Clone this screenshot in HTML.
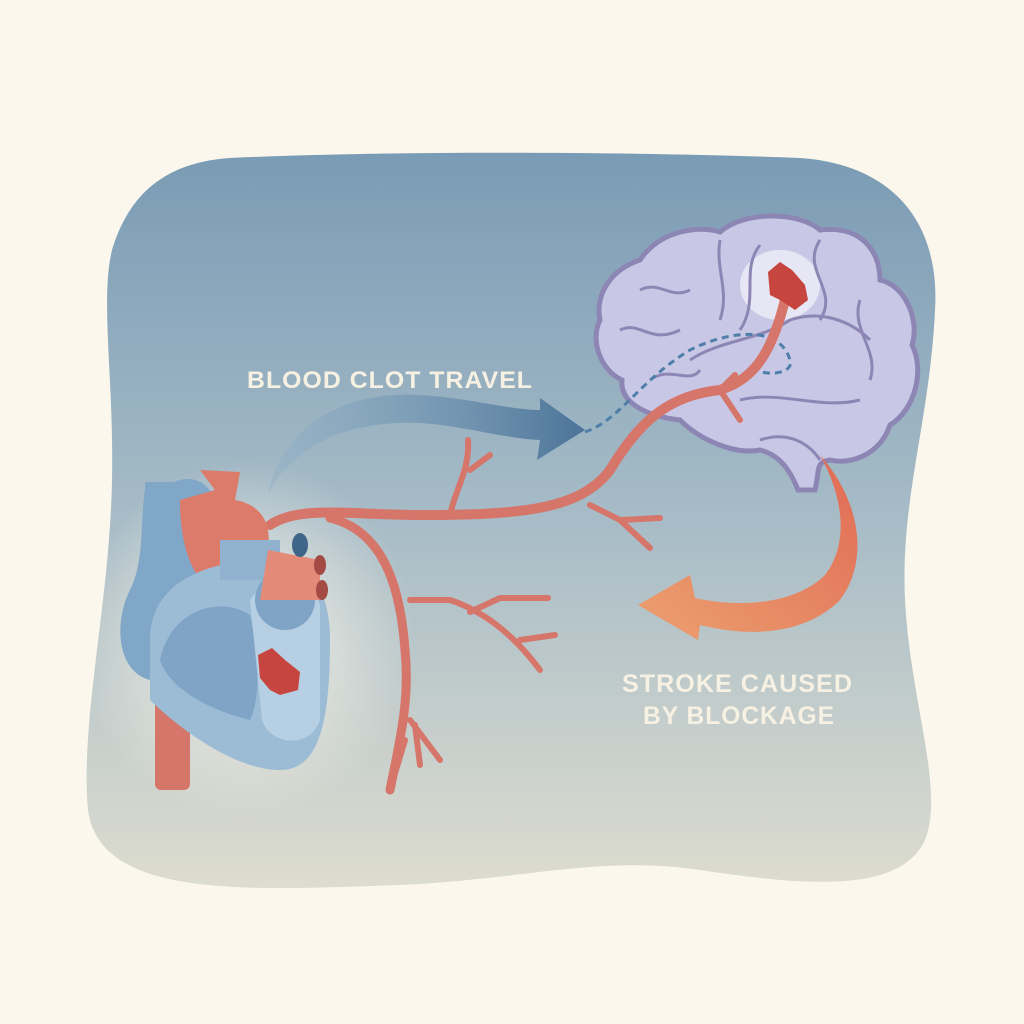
<!DOCTYPE html>
<html><head><style>
html,body{margin:0;padding:0;background:#fbf7ec;}
svg{display:block}
text{font-family:"Liberation Sans",sans-serif;font-weight:bold;fill:#f6f1e2}
</style></head><body>
<svg width="1024" height="1024" viewBox="0 0 1024 1024" xmlns="http://www.w3.org/2000/svg">
<defs>
<linearGradient id="bg" x1="0" y1="0" x2="0" y2="1">
<stop offset="0" stop-color="#7a9bb5"/><stop offset="0.5" stop-color="#a7bcc7"/><stop offset="1" stop-color="#dddccf"/>
</linearGradient>
<radialGradient id="glow" cx="0.5" cy="0.5" r="0.5">
<stop offset="0" stop-color="#fbf7ec" stop-opacity="0.9"/><stop offset="1" stop-color="#fbf7ec" stop-opacity="0"/>
</radialGradient>
<linearGradient id="ba" x1="0" y1="0" x2="1" y2="0">
<stop offset="0" stop-color="#8fb0c8" stop-opacity="0.4"/><stop offset="1" stop-color="#4b7398"/>
</linearGradient>
<linearGradient id="oa" x1="1" y1="0" x2="0" y2="1">
<stop offset="0" stop-color="#e06a55"/><stop offset="1" stop-color="#eca070"/>
</linearGradient>
</defs>
<path d="M230 158 C400 150 650 152 800 158 C900 165 940 230 935 310 C930 420 900 500 905 600 C910 700 945 790 925 840 C900 895 800 885 700 870 C600 855 520 880 400 885 C250 890 100 900 88 810 C80 720 110 600 112 480 C114 380 100 300 112 250 C130 190 170 162 230 158 Z" fill="url(#bg)"/>
<ellipse cx="245" cy="640" rx="170" ry="180" fill="url(#glow)"/>
<path d="M268 495 C280 430 340 390 420 395 C470 398 510 410 540 410 L540 398 L585 430 L537 460 L540 440 C500 438 460 425 420 423 C340 420 290 450 268 495 Z" fill="url(#ba)"/>
<text x="247" y="388" font-size="24" letter-spacing="1" textLength="286" lengthAdjust="spacingAndGlyphs">BLOOD CLOT TRAVEL</text>
<path d="M640 260 C660 230 700 225 720 232 C745 210 800 212 820 230 C860 225 880 250 880 280 C905 285 920 320 912 345 C925 370 915 410 890 425 C880 455 850 465 830 460 C815 462 820 470 815 490 L798 490 C790 470 780 455 760 450 C735 455 700 440 680 420 C640 415 620 400 622 380 C600 370 590 340 600 320 C595 295 610 270 640 260 Z" fill="#c8c8e6" stroke="#8d86b4" stroke-width="5"/>
<ellipse cx="780" cy="285" rx="40" ry="35" fill="#eeeef8" opacity="0.8"/>
<g fill="none" stroke="#8d86b4" stroke-width="3">
<path d="M640 290 C660 280 670 300 690 290 M620 330 C640 320 650 345 680 330 M650 380 C670 365 690 385 700 370 M720 240 C715 270 730 290 720 320 M760 245 C740 270 760 300 740 330 M820 240 C800 270 840 290 820 320 M860 300 C850 330 880 350 870 380 M690 360 C720 340 760 340 790 320 C820 310 850 320 870 340 M740 400 C780 390 820 410 860 400 M760 440 C790 430 810 445 820 460"/>
</g>
<path d="M585 432 C620 420 640 380 690 350 C730 330 780 325 790 360 C795 375 760 378 750 365" fill="none" stroke="#4f7fa8" stroke-width="3" stroke-dasharray="7 5"/>
<g fill="none" stroke="#d6756a" stroke-linecap="round">
<path d="M270 525 C300 505 350 515 420 515 C520 515 580 510 610 470 C640 420 670 395 720 390 C750 380 770 360 785 300" stroke-width="10"/>
<path d="M720 390 L740 420 M720 390 L735 375 M450 515 C455 490 470 470 468 440 M470 470 L490 455 M590 505 L620 520 L650 548 M620 520 L660 518" stroke-width="6"/>
<path d="M330 518 C380 530 400 580 405 650 C410 700 400 740 390 790" stroke-width="9"/>
<path d="M410 600 L450 600 C480 610 510 630 540 670 M470 612 L500 598 L548 598 M520 640 L555 635 M410 720 L440 760 M405 740 L390 790 M415 725 L420 765" stroke-width="6"/>
</g>
<path d="M768 272 L780 262 L792 270 L805 285 L808 300 L795 310 L780 300 L770 295 Z" fill="#c6463f"/>
<rect x="155" y="640" width="35" height="150" rx="6" fill="#d6756a"/>
<path d="M180 480 C200 475 220 490 215 520 L215 560 C220 610 200 640 170 680 C120 690 110 630 130 590 C145 560 140 520 145 490 Z" fill="#80a6c8"/>
<rect x="145" y="482" width="30" height="70" fill="#80a6c8"/>
<path d="M180 500 L215 490 L200 470 L240 472 L235 500 C265 505 275 530 265 560 L215 590 C190 580 180 540 180 500 Z" fill="#dd7b6b"/>
<path d="M150 640 C150 580 210 560 270 560 C310 560 330 590 330 640 C330 720 320 770 280 770 C230 770 170 720 150 700 Z" fill="#9cbcd6"/>
<path d="M160 660 C170 610 220 595 250 615 C260 660 260 700 250 720 C210 710 170 690 160 660 Z" fill="#7fa4c6"/>
<path d="M250 600 C270 570 310 575 320 605 L320 720 C310 750 270 745 262 720 Z" fill="#b7cfe2"/>
<rect x="220" y="540" width="60" height="40" fill="#90b2cf"/>
<circle cx="285" cy="600" r="30" fill="#7fa4c6"/>
<path d="M268 550 L320 560 L320 600 L260 600 Z" fill="#e48a78"/>
<ellipse cx="300" cy="545" rx="8" ry="12" fill="#3f6688"/>
<ellipse cx="320" cy="565" rx="6" ry="10" fill="#a34b44"/>
<ellipse cx="322" cy="590" rx="6" ry="10" fill="#a34b44"/>
<path d="M258 655 L272 648 L285 660 L300 672 L298 690 L280 695 L270 690 L260 678 Z" fill="#c6463f"/>
<path d="M820 455 C860 500 870 560 840 600 C810 630 760 640 700 625 L698 640 L638 605 L690 575 L695 598 C750 610 800 600 825 575 C848 545 845 500 820 455 Z" fill="url(#oa)"/>
<text x="622" y="692" font-size="25" letter-spacing="1" textLength="231" lengthAdjust="spacingAndGlyphs">STROKE CAUSED</text>
<text x="643" y="724" font-size="25" letter-spacing="1" textLength="192" lengthAdjust="spacingAndGlyphs">BY BLOCKAGE</text>
</svg>
</body></html>
